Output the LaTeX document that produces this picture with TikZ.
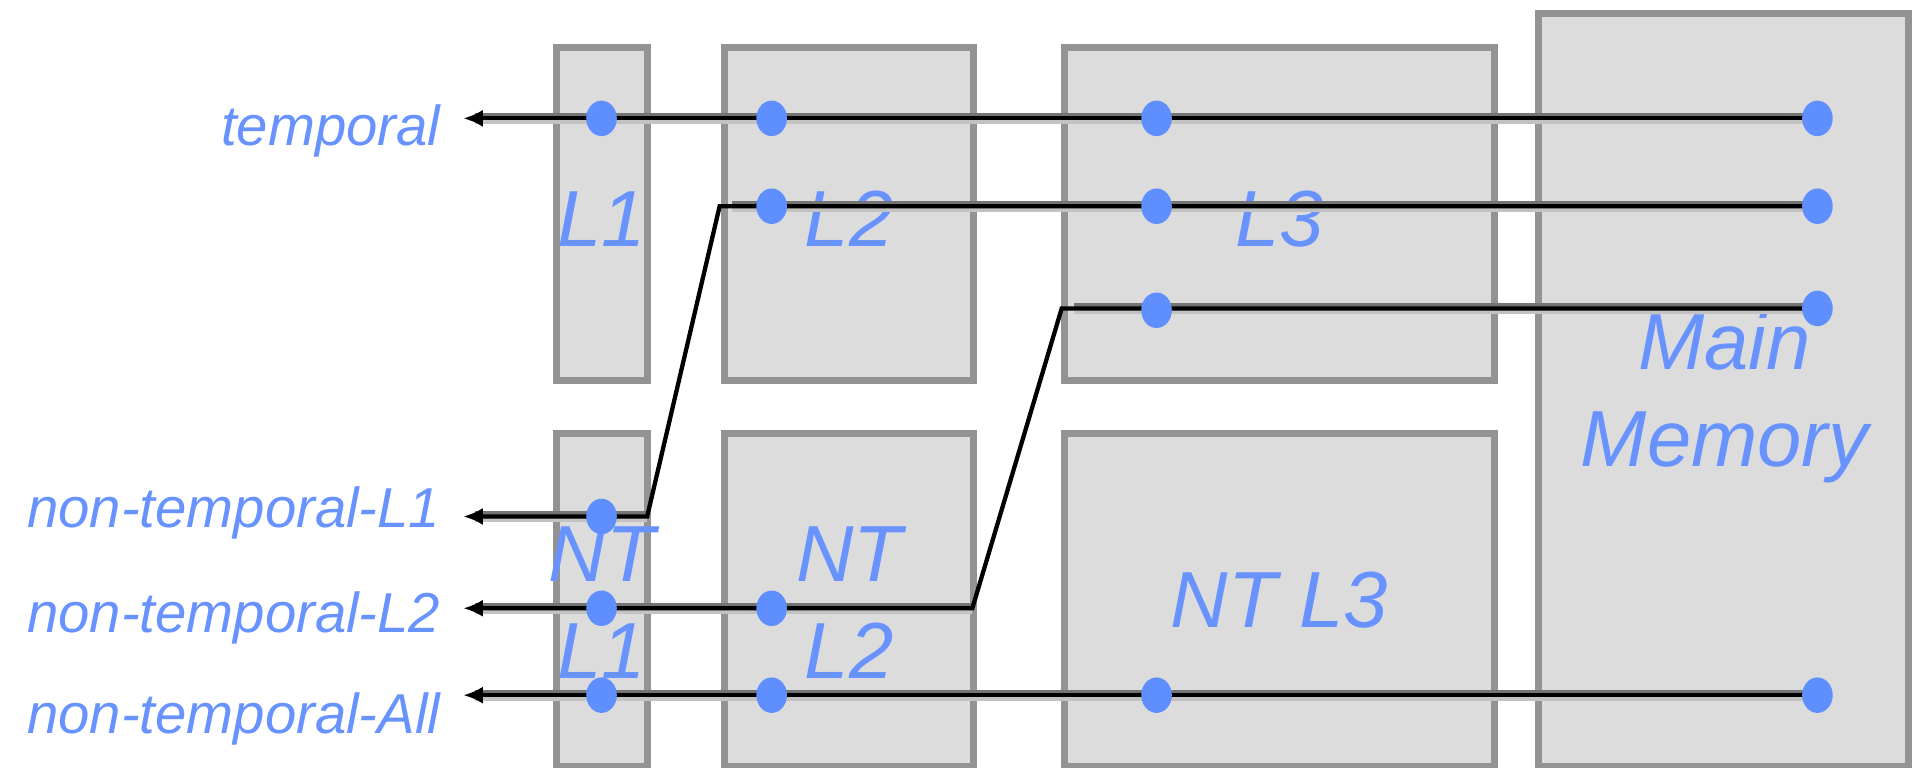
\documentclass[tikz,border=0pt]{standalone}
\usepackage{fontspec}
\setmainfont{Liberation Sans}
\usetikzlibrary{arrows.meta,shapes.geometric}
\definecolor{boxfill}{HTML}{DCDCDC}
\definecolor{boxline}{HTML}{939393}
\definecolor{dotblue}{HTML}{5F8FFF}
\definecolor{txtblue}{HTML}{6893FF}
\definecolor{halodark}{HTML}{747474}
\definecolor{halolight}{HTML}{C2C2C2}
\pgfdeclarelayer{boxes}
\pgfdeclarelayer{lines}
\pgfsetlayers{boxes,lines,main}
\begin{document}
\begin{tikzpicture}[x=1pt,y=-1pt,
  cachebox/.style={draw=boxline,fill=boxfill,line width=5.7pt,rectangle,inner sep=0pt,outer sep=0pt,anchor=north west},
  boxlabel/.style={text=txtblue,font=\fontsize{65}{79}\selectfont\itshape,inner sep=0pt,align=center,anchor=base},
  sidelabel/.style={text=txtblue,font=\fontsize{46}{55}\selectfont\itshape,inner sep=0pt,anchor=base east},
  blob/.style={ellipse,fill=dotblue,inner sep=0pt,minimum width=25pt,minimum height=29pt},
  conn/.style={draw=black,line width=3.5pt,line join=miter},
  arrowconn/.style={conn,-{Latex[length=16pt,width=14pt]}},
  hdark/.style={draw=halodark,line width=4pt,transform canvas={yshift=2.5pt},shorten >=10pt},
  hlight/.style={draw=halolight,line width=3.5pt,transform canvas={yshift=-2.9pt},shorten >=10pt},
]
\useasboundingbox (0,0) rectangle (1568,627);

% cache boxes
\begin{pgfonlayer}{boxes}
\node[cachebox,minimum width=74.5pt,minimum height=272.2pt] (boxL1) at (454.5,38.7) {};
\node[cachebox,minimum width=203.5pt,minimum height=272.2pt] (boxL2) at (592,38.7) {};
\node[cachebox,minimum width=351.5pt,minimum height=272.2pt] (boxL3) at (869.5,38.7) {};
\node[cachebox,minimum width=302.5pt,minimum height=615.4pt] (boxMM) at (1257,10.9) {};
\node[cachebox,minimum width=74.5pt,minimum height=272.3pt] (boxNT1) at (454.5,354) {};
\node[cachebox,minimum width=203.5pt,minimum height=272.3pt] (boxNT2) at (592,354) {};
\node[cachebox,minimum width=351.5pt,minimum height=272.3pt] (boxNT3) at (869.5,354) {};
\node[boxlabel] (txtL1) at (491.75,201) {L1};
\node[boxlabel] (txtL2) at (693.75,201) {L2};
\node[boxlabel] (txtL3) at (1045.25,201) {L3};
\node[boxlabel] (txtNT1) at (491.75,554) {NT\\L1};
\node[boxlabel] (txtNT2) at (693.75,554) {NT\\L2};
\node[boxlabel] (txtNT3) at (1045.25,513) {NT L3};
\node[boxlabel] (txtMM) at (1409,381) {Main\\Memory};
\end{pgfonlayer}

% dots
\node[blob] (dT1) at (491.5,96.7) {};
\node[blob] (dT2) at (630.5,96.7) {};
\node[blob] (dT3) at (945,96.7) {};
\node[blob] (dTM) at (1485,96.7) {};
\node[blob] (d2b) at (630.5,168.5) {};
\node[blob] (d2c) at (945,168.5) {};
\node[blob] (d2M) at (1485,168.5) {};
\node[blob] (d3c) at (945,253.5) {};
\node[blob] (d3M) at (1485,252) {};
\node[blob] (d1a) at (491.5,422) {};
\node[blob] (d4a) at (491.5,497) {};
\node[blob] (d4b) at (630.5,497) {};
\node[blob] (dAa) at (491.5,568) {};
\node[blob] (dAb) at (630.5,568) {};
\node[blob] (dAc) at (945,568) {};
\node[blob] (dAM) at (1485,568) {};

% connector ends and bends
\coordinate (tipT) at (378.5,96.7);
\coordinate (tip1) at (378.5,422);
\coordinate (tip2) at (378.5,497);
\coordinate (tipA) at (378.5,568);
\coordinate (c2a) at (588,168.5);
\coordinate (c2b) at (528.8,422);
\coordinate (c3a) at (867.5,252);
\coordinate (c3b) at (794.5,497);

\begin{pgfonlayer}{lines}
\draw[hdark] (dTM.center) -- (tipT);
\draw[hlight] (dTM.center) -- (tipT);
\draw[hdark] (d2M.center) -- (c2a);
\draw[hlight] (d2M.center) -- (c2a);
\draw[hdark] (c2b) -- (tip1);
\draw[hlight] (c2b) -- (tip1);
\draw[hdark] (d3M.center) -- (c3a);
\draw[hlight] (d3M.center) -- (c3a);
\draw[hdark] (c3b) -- (tip2);
\draw[hlight] (c3b) -- (tip2);
\draw[hdark] (dAM.center) -- (tipA);
\draw[hlight] (dAM.center) -- (tipA);
\draw[arrowconn] (dTM.center) -- (tipT);
\draw[arrowconn] (d2M.center) -- (c2a) -- (c2b) -- (tip1);
\draw[arrowconn] (d3M.center) -- (c3a) -- (c3b) -- (tip2);
\draw[arrowconn] (dAM.center) -- (tipA);
\end{pgfonlayer}

% side labels
\node[sidelabel] (lblT) at (360,118.5) {temporal};
\node[sidelabel] (lbl1) at (360,431) {non-temporal-L1};
\node[sidelabel] (lbl2) at (360,517) {non-temporal-L2};
\node[sidelabel] (lblA) at (360,599) {non-temporal-All};
\end{tikzpicture}
\end{document}
